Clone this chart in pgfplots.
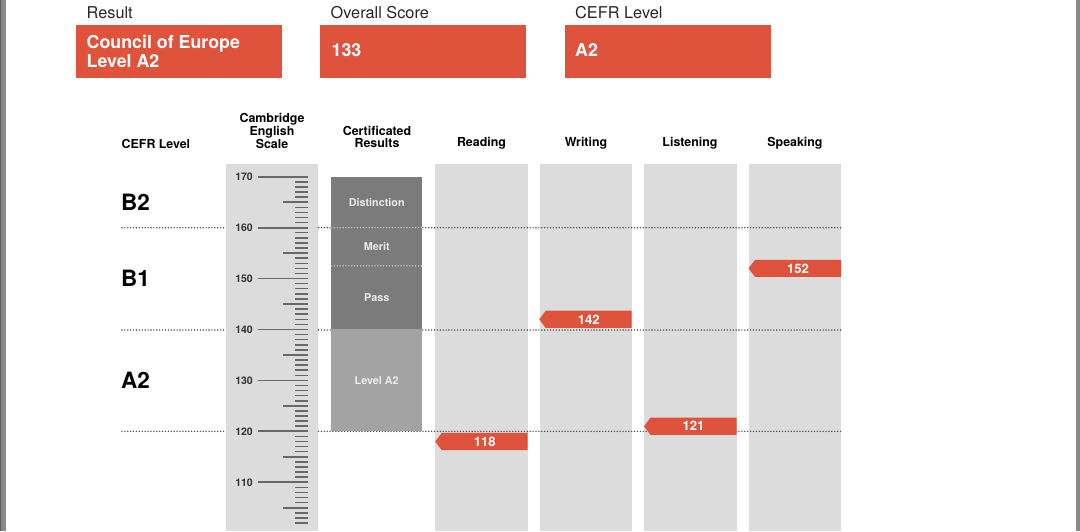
\documentclass[border=0pt]{standalone}
\usepackage{fontspec}
\setmainfont{TeX Gyre Heros}
\usepackage{pgfplots}
\usepackage{pgfplotstable}
\pgfplotsset{compat=1.18}

\definecolor{cered}{RGB}{223,83,61}
\definecolor{colgray}{RGB}{220,220,220}
\definecolor{boxdark}{RGB}{123,123,123}
\definecolor{boxlight}{RGB}{163,163,163}
\definecolor{tickgray}{RGB}{104,104,104}
\definecolor{dotgray}{RGB}{80,80,80}
\definecolor{edgegray}{RGB}{138,138,138}

% flag pointing left, drawn from the score point (right edge of column)
\pgfdeclareplotmark{flag}{%
  \pgfpathmoveto{\pgfpoint{0pt}{8.6pt}}%
  \pgfpathlineto{\pgfpoint{-86pt}{8.6pt}}%
  \pgfpathlineto{\pgfpoint{-92.5pt}{0pt}}%
  \pgfpathlineto{\pgfpoint{-86pt}{-8.6pt}}%
  \pgfpathlineto{\pgfpoint{0pt}{-8.6pt}}%
  \pgfpathclose
  \pgfusepathqfill}

% skill scores; x = right edge of each skill column
\pgfplotstableread{
x     score
527.7 118
631.7 142
736.5 121
841.0 152
}\scores

\newcommand{\fs}[1]{\fontsize{#1}{#1}\selectfont}
\tikzset{dots/.style={line width=1.6pt, line cap=round, dash pattern=on 0pt off 2.9pt}}

\begin{document}
\begin{tikzpicture}
% layout layer, pixel coordinates
\begin{axis}[name=px, at={(0,0)}, anchor=south west,
  scale only axis, width=1080pt, height=531pt,
  xmin=0, xmax=1080, ymin=0, ymax=531, y dir=reverse,
  hide axis, clip=false]
  % page edges
  \fill[edgegray] (axis cs:0,0) rectangle (axis cs:6,531);
  \fill[black!65] (axis cs:0,0) rectangle (axis cs:1.2,531);
  \fill[edgegray] (axis cs:1076,0) rectangle (axis cs:1080,531);
  % top result boxes
  \node[anchor=west, inner sep=0pt, font=\fs{16.3}, text=black!85] at (axis cs:86.5,13) {Result};
  \node[anchor=west, inner sep=0pt, font=\fs{16.3}, text=black!85] at (axis cs:330.5,13) {Overall Score};
  \node[anchor=west, inner sep=0pt, font=\fs{16.3}, text=black!85] at (axis cs:575,13) {CEFR Level};
  \fill[cered] (axis cs:76.4,25) rectangle (axis cs:282.4,77.5);
  \fill[cered] (axis cs:320,25) rectangle (axis cs:526,77.5);
  \fill[cered] (axis cs:564.8,25) rectangle (axis cs:770.7,77.5);
  \node[anchor=west, inner sep=0pt, align=left, text=white, font=\bfseries\fs{17.8}]
    at (axis cs:86.5,51.3) {Council of Europe\\[1.2pt]Level A2};
  \node[anchor=west, inner sep=0pt, text=white, font=\bfseries\fs{17.8}] at (axis cs:331.5,50) {133};
  \node[anchor=west, inner sep=0pt, text=white, font=\bfseries\fs{17.8}] at (axis cs:575,50) {A2};
  % column headers
  \node[anchor=west, inner sep=0pt, font=\bfseries\fs{12.4}] at (axis cs:121.5,143.5) {CEFR Level};
  \node[align=center, inner sep=0pt, font=\bfseries\fs{12.4}] at (axis cs:272,131) {Cambridge\\[0.3pt]English\\[0.3pt]Scale};
  \node[align=center, inner sep=0pt, font=\bfseries\fs{12.4}] at (axis cs:377,137) {Certificated\\[0.3pt]Results};
  \node[font=\bfseries\fs{12.4}] at (axis cs:481.5,143.5) {Reading};
  \node[font=\bfseries\fs{12.4}] at (axis cs:586,143.5) {Writing};
  \node[font=\bfseries\fs{12.4}] at (axis cs:690,143.5) {Listening};
  \node[font=\bfseries\fs{12.4}] at (axis cs:795,143.5) {Speaking};
  % grey columns
  \fill[colgray] (axis cs:226,164.3) rectangle (axis cs:317.7,531);
  \fill[colgray] (axis cs:435.3,164.3) rectangle (axis cs:527.7,531);
  \fill[colgray] (axis cs:540,164.3) rectangle (axis cs:631.7,531);
  \fill[colgray] (axis cs:644.3,164.3) rectangle (axis cs:736.5,531);
  \fill[colgray] (axis cs:749.3,164.3) rectangle (axis cs:841,531);
  % CEFR level names
  \node[anchor=west, inner sep=0pt, font=\bfseries\fs{22.5}] at (axis cs:121,202) {B2};
  \node[anchor=west, inner sep=0pt, font=\bfseries\fs{22.5}] at (axis cs:121,278) {B1};
  \node[anchor=west, inner sep=0pt, font=\bfseries\fs{22.5}] at (axis cs:121,380) {A2};
  % level boundaries
  \pgfplotsinvokeforeach{227.7,330,431.3}{
    \draw[dotgray, dots] (axis cs:122,#1) -- (axis cs:226,#1);
    \draw[dotgray, dots] (axis cs:318.5,#1) -- (axis cs:841,#1);
  }
\end{axis}

% data layer, Cambridge English Scale on y
\begin{axis}[at={(0,0)}, anchor=south west,
  scale only axis, width=1080pt, height=531pt,
  xmin=0, xmax=1080, ymin=100.43, ymax=204.70,
  hide axis, clip=false]
  % certificated result bands
  \addplot[fill=boxdark, draw=none] coordinates {(331,170) (422.3,170) (422.3,140) (331,140)} -- cycle;
  \addplot[fill=boxlight, draw=none] coordinates {(331,140) (422.3,140) (422.3,120) (331,120)} -- cycle;
  \draw[black!22, dots] (axis cs:331.5,160) -- (axis cs:422,160);
  \draw[black!22, dots] (axis cs:331.5,152.5) -- (axis cs:422,152.5);
  \node[text=white!92!black, font=\bfseries\fs{10.8}] at (axis cs:376.7,165) {Distinction};
  \node[text=white!92!black, font=\bfseries\fs{10.8}] at (axis cs:376.7,156.25) {Merit};
  \node[text=white!92!black, font=\bfseries\fs{10.8}] at (axis cs:376.7,146.25) {Pass};
  \node[text=white!92!black, font=\bfseries\fs{10.8}] at (axis cs:376.7,130) {Level A2};
  % scale ruler
  \pgfplotsinvokeforeach{102,...,169}{
    \draw[tickgray, line width=1.5pt] (axis cs:295,#1) -- (axis cs:307.7,#1);}
  \pgfplotsinvokeforeach{105,115,...,165}{
    \draw[tickgray, line width=1.6pt] (axis cs:283.3,#1) -- (axis cs:307.7,#1);}
  \pgfplotsinvokeforeach{110,120,...,170}{
    \draw[tickgray, line width=1.8pt] (axis cs:257.7,#1) -- (axis cs:307.7,#1);
    \node[anchor=east, inner sep=0pt, text=black!80, font=\bfseries\fs{10.5}] at (axis cs:253,#1) {#1};}
  % skill scores
  \addplot[only marks, mark=flag, color=cered, mark options={fill=cered, draw=none},
    point meta=explicit symbolic, nodes near coords,
    every node near coord/.append style={anchor=center, xshift=-43pt, text=white, font=\bfseries\fs{13}}]
    table[x=x, y=score, meta=score] {\scores};
\end{axis}
\pgfresetboundingbox
\path (px.south west) rectangle (px.north east);
\end{tikzpicture}
\end{document}
